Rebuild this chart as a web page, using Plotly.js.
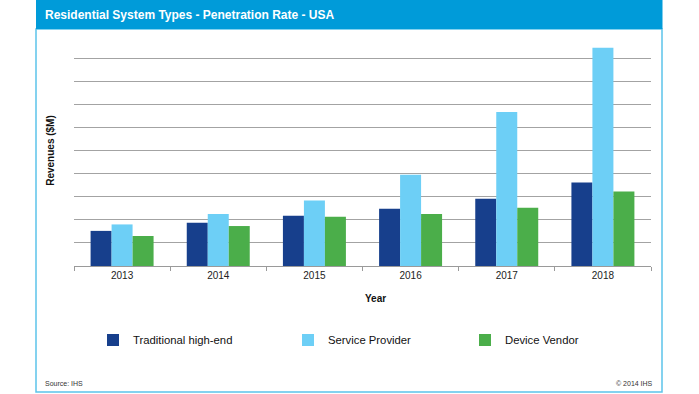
<!DOCTYPE html>
<html>
<head>
<meta charset="utf-8">
<script src="https://cdn.plot.ly/plotly-3.0.1.min.js"></script>
<style>
html,body{margin:0;padding:0;background:#fff;}
#chart{width:699px;height:394px;}
</style>
</head>
<body>
<div id="chart"></div>
<script>
var years = ["2013", "2014", "2015", "2016", "2017", "2018"];
var traditionalHighEnd = [1.52, 1.87, 2.18, 2.48, 2.91, 3.62];
var serviceProvider = [1.80, 2.25, 2.84, 3.95, 6.67, 9.45];
var deviceVendor = [1.30, 1.73, 2.13, 2.25, 2.52, 3.23];

var seriesNames = ["Traditional high-end", "Service Provider", "Device Vendor"];
var seriesColors = ["#173F8C", "#6DCFF6", "#4BAE4A"];
var seriesValues = [traditionalHighEnd, serviceProvider, deviceVendor];
var legendIds = ["legend", "legend2", "legend3"];

var W = 699, H = 394;
var L = 74, R = 651, T = 35, B = 266;
var pw = R - L, ph = B - T;
function px(x) { return (x - L) / pw; }
function py(y) { return (B - y) / ph; }

var traces = seriesValues.map(function (vals, i) {
  return {
    type: "bar",
    name: seriesNames[i],
    x: years,
    y: vals,
    marker: { color: seriesColors[i], line: { width: 0 } },
    legend: legendIds[i],
    hoverinfo: "x+y+name"
  };
});

var legendTextX = [133, 328, 505];
var legendFont = { family: "Arial, Liberation Sans, sans-serif", size: 11.3, color: "#111" };
function legendAt(i) {
  return {
    x: px(legendTextX[i] - 40), xanchor: "left",
    y: py(340), yanchor: "middle",
    orientation: "h",
    bgcolor: "rgba(0,0,0,0)",
    font: legendFont,
    borderwidth: 0,
    itemclick: false
  };
}

var layout = {
  width: W, height: H,
  margin: { l: L, r: W - R, t: T, b: H - B, pad: 0 },
  paper_bgcolor: "#ffffff",
  plot_bgcolor: "#ffffff",
  barmode: "group",
  bargap: 0.345,
  bargroupgap: 0,
  font: { family: "Arial, Liberation Sans, sans-serif", color: "#222" },
  xaxis: {
    type: "category",
    tickfont: { size: 10, color: "#222" },
    showline: true, linecolor: "#9a9a9a", linewidth: 1,
    ticks: "outside", tickson: "boundaries", ticklen: 4, tickcolor: "#9a9a9a",
    showgrid: false, zeroline: false,
    fixedrange: true
  },
  yaxis: {
    range: [0, 10],
    dtick: 1,
    showticklabels: false,
    ticks: "",
    showgrid: true, gridcolor: "#a3a3a3", gridwidth: 1,
    zeroline: false, showline: false,
    title: { text: "<b>Revenues ($M)</b>", font: { size: 10, color: "#111" }, standoff: 16 },
    fixedrange: true
  },
  showlegend: true,
  legend: legendAt(0),
  legend2: legendAt(1),
  legend3: legendAt(2),
  shapes: [
    { type: "rect", xref: "paper", yref: "paper",
      x0: px(36), x1: px(662), y0: py(392), y1: py(29),
      line: { color: "#5CC3EA", width: 1.5 }, fillcolor: "rgba(0,0,0,0)", layer: "below" },
    { type: "rect", xref: "paper", yref: "paper",
      x0: px(36), x1: px(662.5), y0: py(29), y1: py(-2),
      line: { width: 0 }, fillcolor: "#009BD9", layer: "below" }
  ],
  annotations: [
    { xref: "paper", yref: "paper", x: px(43), y: py(15), xanchor: "left", yanchor: "middle",
      text: "<b>Residential System Types - Penetration Rate - USA</b>", showarrow: false,
      font: { family: "Liberation Sans Narrow, Arial Narrow, Arial, sans-serif", size: 12, color: "#ffffff" } },
    { xref: "paper", yref: "paper", x: px(375), y: py(298), xanchor: "center", yanchor: "middle",
      text: "<b>Year</b>", showarrow: false, font: { size: 10, color: "#111" } },
    { xref: "paper", yref: "paper", x: px(43), y: py(383), xanchor: "left", yanchor: "middle",
      text: "Source: IHS", showarrow: false, font: { size: 7, color: "#333" } },
    { xref: "paper", yref: "paper", x: px(655), y: py(383), xanchor: "right", yanchor: "middle",
      text: "© 2014 IHS", showarrow: false, font: { size: 7, color: "#333" } }
  ]
};

Plotly.newPlot("chart", traces, layout, { displayModeBar: false, staticPlot: true });
</script>
</body>
</html>
